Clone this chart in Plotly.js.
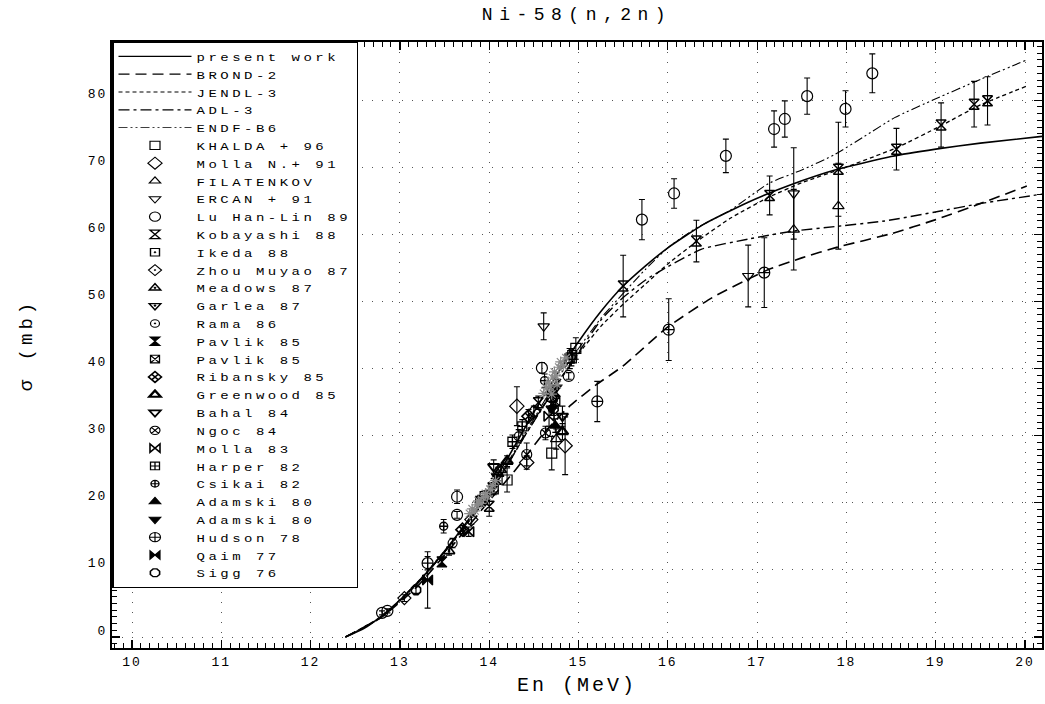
<!DOCTYPE html>
<html><head><meta charset="utf-8">
<script src="https://cdn.plot.ly/plotly-3.0.1.min.js"></script>
<style>
html,body{margin:0;padding:0;background:#fff;}
#chart{width:1045px;height:704px;}
.legendtext{letter-spacing:3.5px;}
.legend .bg,.legend .scrollbox{transform:scaleY(0.84);}
.xtick text,.ytick text{letter-spacing:2px;}
.gtitle{letter-spacing:6.5px;}
.xtitle{letter-spacing:3px;}
.ytitle{letter-spacing:4px;}
</style></head><body><div id="chart"></div><script>
// ---- evaluated curves: neutron energy (MeV) / cross section (mb)
const presentE = [12.39,12.6,12.8,13.0,13.3,13.6,13.9,14.2,14.5,14.8,15.0,15.25,15.5,15.75,16.0,16.4,16.9,17.4,17.9,18.5,19.0,19.5,20.19];
const presentS = [0,1.3,3.2,5.5,9.6,14.5,20.0,26.5,33.5,40.0,44.0,48.5,52.3,55.3,58.0,61.5,64.8,67.5,69.7,71.6,72.7,73.6,74.6];
const brondE = [12.39,12.8,13.2,13.6,14.0,14.3,14.6,14.9,15.2,15.5,16.0,16.5,17.1,17.5,17.9,18.5,19.0,19.5,20.02];
const brondS = [0,3.0,7.6,13.8,20.3,25.0,30.2,34.4,37.6,40.4,46.2,50.6,54.6,56.5,58.1,60.1,62.2,64.6,67.2];
const jendlE = [12.39,12.8,13.2,13.6,14.0,14.4,14.8,15.0,15.25,15.5,15.75,16.0,16.32,16.7,17.14,17.5,17.91,18.56,19.06,19.5,20.02];
const jendlS = [0,3.1,8.2,14.4,21.3,30.0,38.6,42.2,46.3,49.6,52.6,55.6,58.9,62.4,65.6,67.7,69.6,72.9,76.2,79.3,82.1];
const adlE = [12.39,12.8,13.2,13.6,14.0,14.4,14.8,15.0,15.26,15.5,15.75,16.0,16.38,16.9,17.41,17.9,18.43,18.98,19.5,20.19];
const adlS = [0,3.0,8.0,14.3,21.2,30.0,38.4,42.4,47.4,50.6,53.2,55.2,57.8,59.3,60.5,61.2,62.0,63.3,64.6,66.0];
const endfE = [12.39,12.8,13.2,13.6,14.0,14.4,14.8,15.0,15.25,15.5,15.75,16.0,16.3,16.7,17.13,17.5,17.87,18.2,18.54,19.0,19.5,20.02];
const endfS = [0,3.0,8.0,14.3,21.5,30.3,39.2,43.0,47.5,51.2,54.8,58.0,60.8,63.6,67.6,69.6,71.9,74.6,77.4,80.2,83.1,86.0];

// ---- experimental data: [energy MeV, sigma mb, error mb]
const khalda   = [[14.20,23.4,1.8],[14.70,27.4,2.5],[14.92,41.6,1.2],[14.97,43.0,1.6]];
const mollaN   = [[14.31,34.4,2.9],[14.42,26.0,1.0],[14.85,28.5,4.3]];
const filat    = [[14.10,24.3,1.0],[14.75,29.5,1.5],[17.41,60.7,6.0],[17.91,64.2,6.4]];
const ercan    = [[14.61,46.3,2.0],[16.90,53.8,4.6],[17.41,66.1,6.8]];
const luHanLin = [[12.80,3.6,0.3],[12.86,3.9,0.3],[13.64,20.9,1.0],[13.64,18.2,0.5],[14.59,40.1,0.8],[14.89,38.9,0.5],[15.71,62.2,3.0],[16.07,66.1,2.2],[16.65,71.7,2.5],[17.19,75.7,2.7],[17.31,77.2,2.7],[17.56,80.6,2.7],[17.99,78.7,2.7],[18.29,84.0,2.9]];
const kobayashi= [[14.00,19.5,1.5],[14.55,34.9,1.0],[15.50,52.3,4.6],[16.32,59.0,3.1],[17.14,65.8,2.9],[17.91,69.7,7.0],[18.56,72.7,3.1],[19.06,76.3,3.3],[19.43,79.4,3.4],[19.58,79.9,3.6]];
const ikeda    = [[13.95,21.0,0.8],[14.05,22.0,0.8],[14.90,41.5,1.5]];
const zhou     = [[13.05,5.8,0.5],[13.80,17.5,0.7],[14.50,33.6,0.8]];
const meadows  = [[13.55,12.8,0.6],[14.13,24.9,0.8],[14.70,35.5,1.0]];
const garlea   = [[14.05,22.6,1.0],[14.75,37.2,1.2]];
const rama     = [[13.59,14.0,0.7],[14.33,29.9,1.0]];
const pavlikA  = [[13.47,11.2,0.6],[14.08,23.5,0.8],[14.74,36.6,1.0]];
const pavlikB  = [[13.90,20.3,0.8],[14.74,35.1,1.0]];
const ribansky = [[13.70,16.0,0.6],[14.44,32.9,1.0]];
const greenwood= [[14.20,26.2,0.8],[14.82,30.6,1.2]];
const bahal    = [[14.05,25.4,1.0],[14.82,32.9,1.5]];
const ngoc     = [[14.42,27.2,1.7],[14.63,30.4,1.0]];
const molla83  = [[13.77,15.7,0.7],[14.67,32.9,1.5]];
const harper   = [[14.26,29.1,1.0],[14.37,31.4,1.0],[14.93,42.0,1.0]];
const csikai   = [[13.49,16.5,1.0],[14.62,38.2,1.0]];
const adamskiU = [[14.74,31.5,1.0]];
const adamskiD = [[14.70,34.0,1.0]];
const hudson   = [[13.31,11.0,1.0],[15.21,35.1,3.0],[16.01,45.8,4.6],[17.08,54.3,5.2]];
const qaim     = [[13.31,8.5,4.2],[14.70,36.0,1.0]];
const sigg     = [[13.18,7.0,0.5],[14.72,34.0,1.0]];
// dense overlapping points drawn grey in the original
const denseCluster = [[13.78,18.4],[13.81,19.1],[13.84,18.8],[13.86,19.7],[13.88,20.3],[13.91,19.9],[13.93,20.8],[13.96,21.4],[13.98,20.9],[14.01,22.0],[14.04,22.6],[14.07,23.3],[14.61,36.3],[14.64,37.1],[14.66,38.0],[14.68,37.4],[14.71,38.6],[14.73,39.5],[14.75,38.9],[14.78,40.2],[14.80,41.0],[14.83,40.4],[14.86,41.6],[14.70,36.2],[14.76,37.6]];

const curves = [
  {name:'present work', e:presentE, s:presentS, dash:'solid', w:1.6},
  {name:'BROND-2', e:brondE, s:brondS, dash:'11px,6px', w:1.6},
  {name:'JENDL-3', e:jendlE, s:jendlS, dash:'4px,3px', w:1.3},
  {name:'ADL-3', e:adlE, s:adlS, dash:'11px,4px,3px,4px', w:1.4},
  {name:'ENDF-B6', e:endfE, s:endfS, dash:'9px,3px,2px,3px,2px,3px', w:1.1}
];
const expSets = [
  {name:'KHALDA + 96', pts:khalda, sym:'square-open', size:10, lw:1.2},
  {name:'Molla N.+ 91', pts:mollaN, sym:'diamond-open', size:11, lw:1.2},
  {name:'FILATENKOV', pts:filat, sym:'triangle-up-open', size:10, lw:1.2},
  {name:'ERCAN + 91', pts:ercan, sym:'triangle-down-open', size:10, lw:1.2},
  {name:'Lu Han-Lin 89', pts:luHanLin, sym:'circle-open', size:11, lw:1.2},
  {name:'Kobayashi 88', pts:kobayashi, sym:'hourglass-open', size:10, lw:1.5},
  {name:'Ikeda 88', pts:ikeda, sym:'square-open-dot', size:9, lw:1.4},
  {name:'Zhou Muyao 87', pts:zhou, sym:'diamond-open-dot', size:10, lw:1.2},
  {name:'Meadows 87', pts:meadows, sym:'triangle-up-open-dot', size:10, lw:1.6},
  {name:'Garlea 87', pts:garlea, sym:'triangle-down-open-dot', size:10, lw:1.6},
  {name:'Rama 86', pts:rama, sym:'circle-open-dot', size:9, lw:1.2},
  {name:'Pavlik 85', pts:pavlikA, sym:'hourglass', size:10, lw:1.2},
  {name:'Pavlik 85', pts:pavlikB, sym:'square-x-open', size:9, lw:1.3},
  {name:'Ribansky 85', pts:ribansky, sym:'diamond-x-open', size:10, lw:1.7},
  {name:'Greenwood 85', pts:greenwood, sym:'triangle-up-open', size:10, lw:2.4},
  {name:'Bahal 84', pts:bahal, sym:'triangle-down-open', size:10, lw:2.0},
  {name:'Ngoc 84', pts:ngoc, sym:'circle-x-open', size:10, lw:1.2},
  {name:'Molla 83', pts:molla83, sym:'bowtie-open', size:10, lw:1.6},
  {name:'Harper 82', pts:harper, sym:'square-cross-open', size:9, lw:1.3},
  {name:'Csikai 82', pts:csikai, sym:'circle-cross-open', size:8, lw:1.4},
  {name:'Adamski 80', pts:adamskiU, sym:'triangle-up', size:10, lw:1.2},
  {name:'Adamski 80', pts:adamskiD, sym:'triangle-down', size:10, lw:1.2},
  {name:'Hudson 78', pts:hudson, sym:'circle-cross-open', size:11, lw:1.2},
  {name:'Qaim 77', pts:qaim, sym:'bowtie', size:10, lw:1.2},
  {name:'Sigg 76', pts:sigg, sym:'octagon-open', size:10, lw:1.6}
];

const traces = [];
curves.forEach(c => traces.push({
  type:'scatter', mode:'lines', name:c.name, x:c.e, y:c.s,
  line:{color:'#000', width:c.w, dash:c.dash, shape:'spline', smoothing:0.5},
  hoverinfo:'skip'
}));
expSets.forEach(d => traces.push({
  type:'scatter', mode:'markers', name:d.name,
  x:d.pts.map(p=>p[0]), y:d.pts.map(p=>p[1]),
  error_y:{type:'data', array:d.pts.map(p=>p[2]), visible:true, color:'#000', thickness:1.1, width:3},
  marker:{symbol:d.sym, size:d.size, color:'#000', line:{color:'#000', width:d.lw}},
  hoverinfo:'skip'
}));
traces.push({
  type:'scatter', mode:'markers', name:'dense', showlegend:false,
  x:denseCluster.map(p=>p[0]), y:denseCluster.map(p=>p[1]),
  marker:{symbol:'asterisk-open', size:9, color:'#8a8a8a', line:{color:'#8a8a8a', width:1.2}},
  hoverinfo:'skip'
});

const FONT = 'Liberation Mono, DejaVu Sans Mono, monospace';
const axisCommon = {
  ticks:'inside', ticklen:8, tickwidth:1.2, tickcolor:'#000',
  showline:true, linewidth:2, linecolor:'#000', mirror:'allticks',
  showgrid:true, gridcolor:'#555', gridwidth:1, griddash:'1px,9px',
  zeroline:false, tickfont:{family:FONT, size:13, color:'#000'}
};
const layout = {
  width:1045, height:704,
  margin:{l:112, r:3, t:42, b:56},
  paper_bgcolor:'#fff', plot_bgcolor:'#fff',
  font:{family:FONT, color:'#000', size:13},
  title:{text:'Ni-58(n,2n)', x:0.5, xref:'paper', xanchor:'center', y:0.981, yref:'container', yanchor:'middle', font:{family:FONT, size:18, color:'#000'}},
  xaxis:Object.assign({}, axisCommon, {
    range:[9.776, 20.19], tick0:10, dtick:1,
    minor:{dtick:0.1, ticks:'inside', ticklen:5, tickwidth:1, tickcolor:'#000', showgrid:false},
    title:{text:'En (MeV)', font:{family:FONT, size:20, color:'#000'}, standoff:8}
  }),
  yaxis:Object.assign({}, axisCommon, {
    range:[-1.64, 88.67], tick0:0, dtick:10, ticklabelshift:-7,
    minor:{dtick:1, ticks:'inside', ticklen:5, tickwidth:1, tickcolor:'#000', showgrid:false},
    title:{text:'σ (mb)', font:{family:FONT, size:19, color:'#000'}, standoff:50}
  }),
  showlegend:true,
  legend:{x:0, y:1, xanchor:'left', yanchor:'top', bgcolor:'#fff', bordercolor:'#000', borderwidth:1.5,
          maxheight:690,
          font:{family:FONT, size:14, color:'#000'}, itemwidth:73, tracegroupgap:0, traceorder:'normal'}
};

Plotly.newPlot('chart', traces, layout, {staticPlot:true});
</script></body></html>
